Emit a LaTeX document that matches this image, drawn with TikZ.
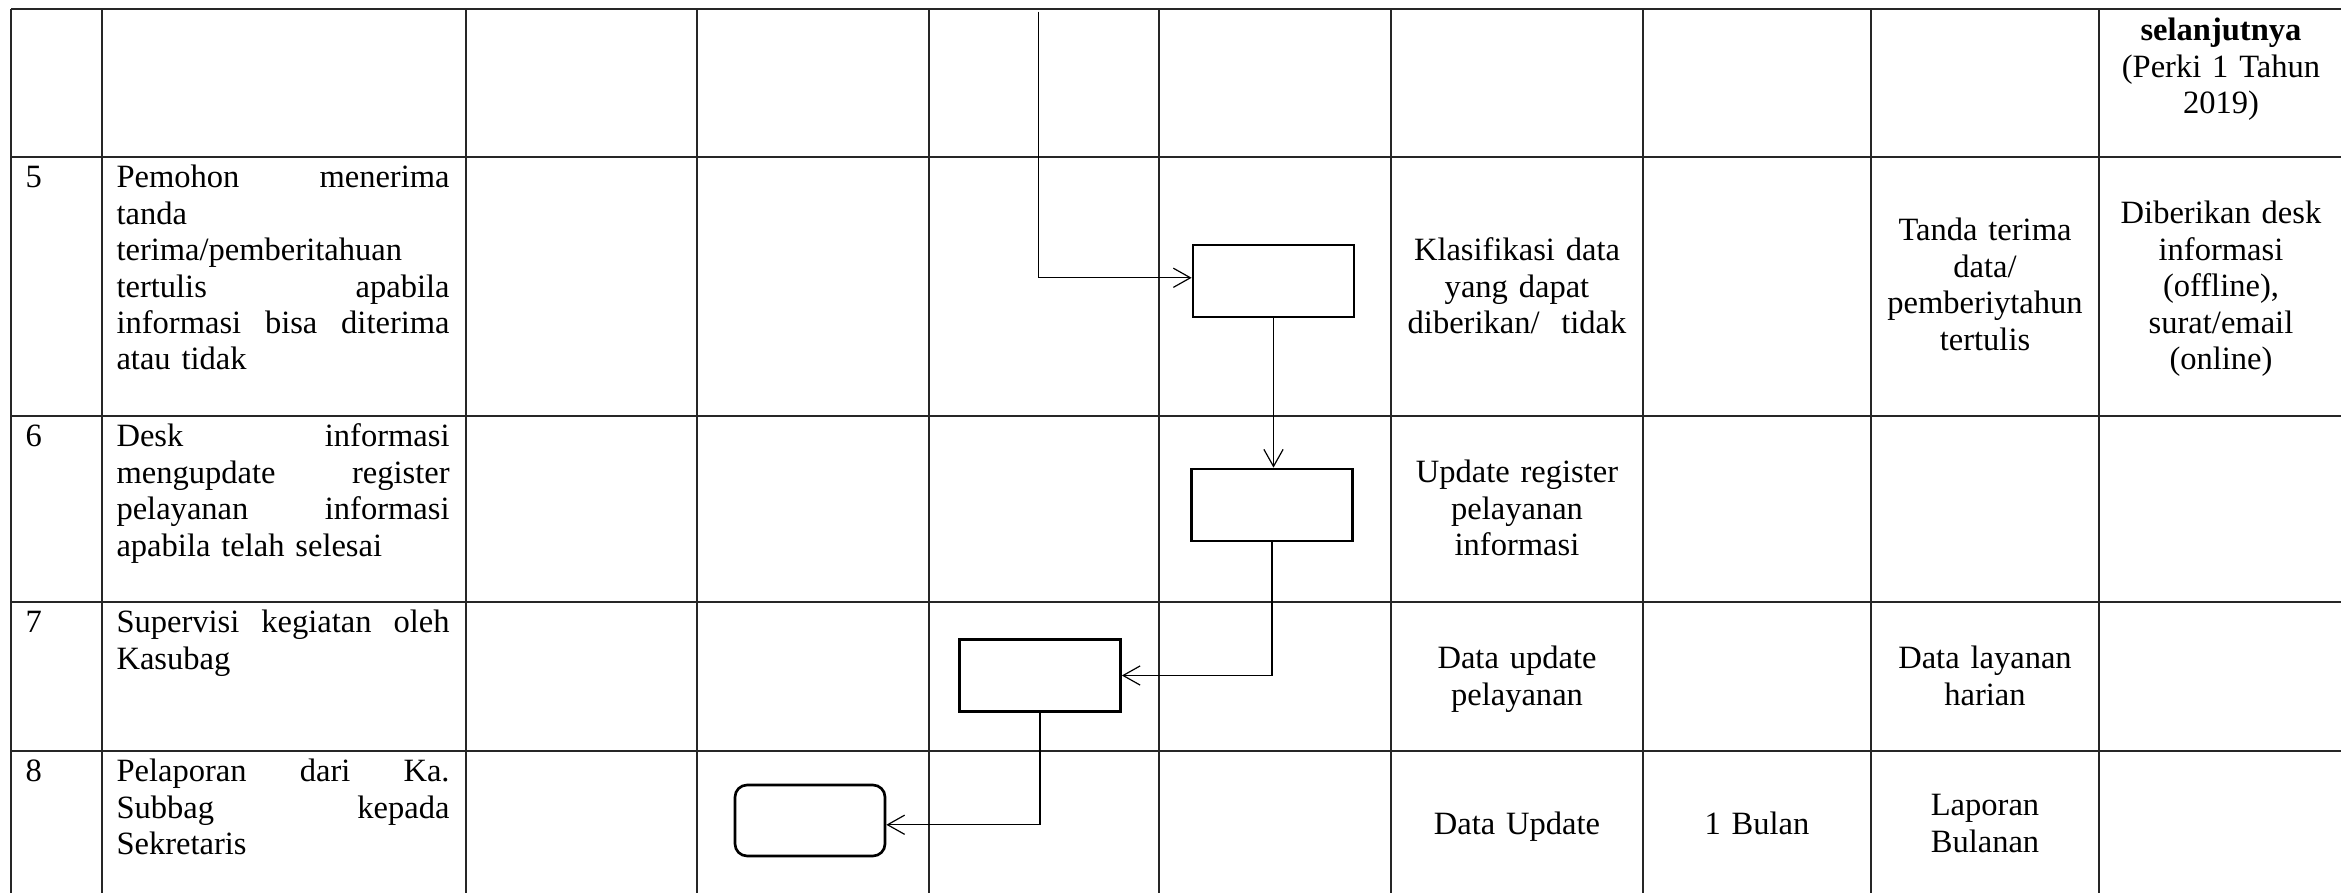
\documentclass[tikz,border=0pt]{standalone}
\usepackage{fontspec}
\setmainfont{Liberation Serif}
\usetikzlibrary{arrows.meta}
\begin{document}
\begin{tikzpicture}[x=0.375pt,y=-0.375pt,
  font=\fontsize{12.2}{13.65}\selectfont,
  grid/.style={line width=0.6pt, draw=black!85},
  flowbox/.style={draw, line width=1pt, minimum width=60.4pt, minimum height=27pt, inner sep=0pt},
  endbox/.style={flowbox, rounded corners=4.5pt, minimum width=56.25pt, minimum height=26.6pt},
  link/.style={line width=0.45pt, -{Straight Barb[length=6.4pt,width=7.2pt]}},
  cell/.style={anchor=base, inner sep=0pt, text width=#1, align=center},
  cell/.default=86pt,
  steptext/.style={anchor=base west, inner sep=0pt, text width=124.9pt, align=left},
  num/.style={anchor=base west, inner sep=0pt}]
\useasboundingbox (0,0) rectangle (2341,893);

% table rules
\foreach \yy in {9,157,416,602,751}
  \draw[grid] (11,\yy) -- (2341,\yy);
\foreach \xx in {11,102,466,697,929,1159,1391,1643,1871,2099}
  \draw[grid] (\xx,9) -- (\xx,893);

% header remainder
\node[cell] (hdr) at (2221,41) {\textbf{selanjutnya}\\(Perki 1 Tahun\\2019)};

% step numbers
\node[num] (n5) at (25,188) {5};
\node[num] (n6) at (25,447) {6};
\node[num] (n7) at (25,633) {7};
\node[num] (n8) at (25,782) {8};

% step descriptions
\node[steptext] (d5) at (116,188) {Pemohon\hfill menerima\\tanda\\terima/pemberitahuan\\tertulis\hfill apabila\\informasi\hfill bisa\hfill diterima\\atau tidak};
\node[steptext] (d6) at (116,447) {Desk\hfill informasi\\mengupdate\hfill register\\pelayanan\hfill informasi\\apabila telah selesai};
\node[steptext] (d7) at (116,633) {Supervisi\hfill kegiatan\hfill oleh\\Kasubag};
\node[steptext] (d8) at (116,782) {Pelaporan\hfill dari\hfill Ka.\\Subbag\hfill kepada\\Sekretaris};

% requirements / time / output / notes
\node[cell] (k5) at (1517,261) {Klasifikasi data\\yang dapat\\diberikan/~ tidak};
\node[cell] (o5) at (1985,241) {Tanda terima\\data/\\pemberiytahun\\tertulis};
\node[cell] (r5) at (2221,224) {Diberikan desk\\informasi\\(offline),\\surat/email\\(online)};
\node[cell] (k6) at (1517,483) {Update register\\pelayanan\\informasi};
\node[cell] (k7) at (1517,669) {Data update\\pelayanan};
\node[cell] (o7) at (1985,669) {Data layanan\\harian};
\node[cell] (k8) at (1517,835) {Data Update};
\node[cell] (t8) at (1757,835) {1 Bulan};
\node[cell] (o8) at (1985,816) {Laporan\\Bulanan};

% flow symbols
\node[flowbox] (A) at (1273.5,281) {};
\node[flowbox] (B) at (1272,505) {};
\node[flowbox] (C) at (1040,675.5) {};
\node[endbox] (D) at (810,820.5) {};
\coordinate (src) at (1038.7,11.7);

% connectors
\draw[link] (src) |- ([yshift=1.2pt]A.west);
\draw[link] (A.south) -- (A.south |- B.north);
\draw[link] (B.south) |- (C.east);
\draw[link] (C.south) |- ([yshift=-1.6pt]D.east);
\end{tikzpicture}
\end{document}
